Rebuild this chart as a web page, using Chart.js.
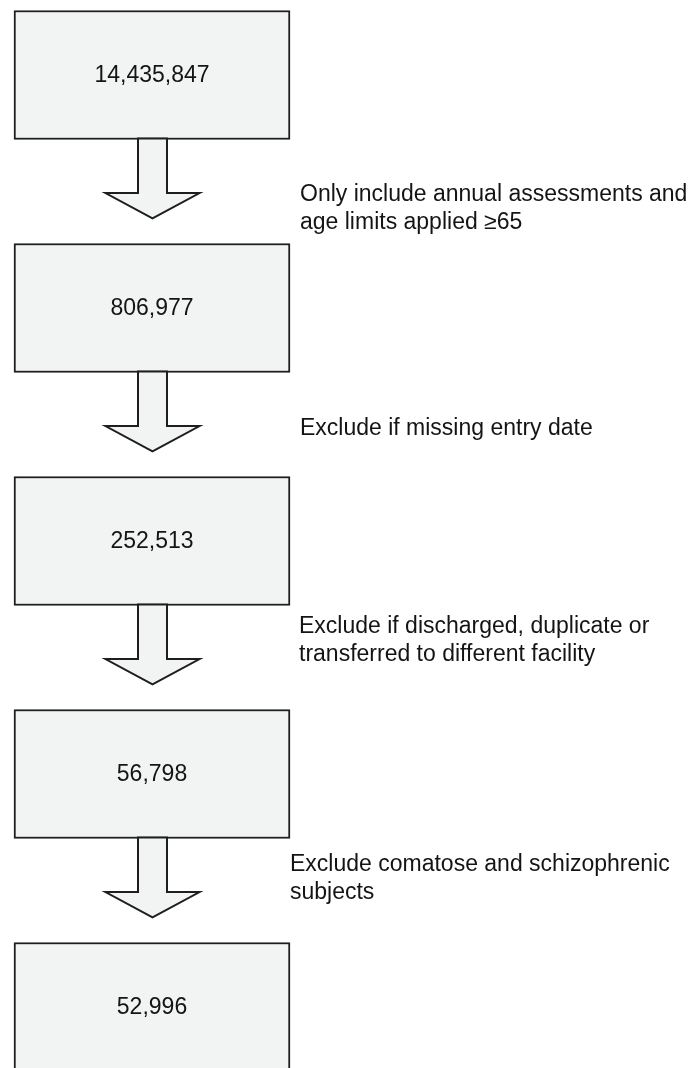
<!DOCTYPE html>
<html lang="en">
<head>
<meta charset="UTF-8">
<title>Flow</title>
<script src="https://cdn.jsdelivr.net/npm/chart.js@4.4.1/dist/chart.umd.min.js"></script>
<style>
  html, body { margin: 0; padding: 0; background: #fff; }
  #wrap { width: 697px; height: 1068px; position: relative; }
</style>
</head>
<body>
<div id="wrap"><canvas id="flow"></canvas></div>
<script>
// counts remaining after each step
const counts = [14435847, 806977, 252513, 56798, 52996];
// exclusion step between box i and box i+1 (lines)
const steps = [
  ['Only include annual assessments and', 'age limits applied \u226565'],
  ['Exclude if missing entry date'],
  ['Exclude if discharged, duplicate or', 'transferred to different facility'],
  ['Exclude comatose and schizophrenic', 'subjects']
];

// layout (pixels)
const BOX_LEFT = 14, BOX_RIGHT = 290, BOX_H = 129;
const FIRST_CENTER = 75, PITCH = 233;
const W = 697, H = 1068;
const noteX = [300, 300, 299, 290];
const noteShift = [30, 17, -4, 1];
const FONT = '23px "Liberation Sans", Arial, sans-serif';
const FILL = '#f2f3f3', EDGE = '#1e1e1e';

const data = counts.map((c, i) => ({ x: [BOX_LEFT, BOX_RIGHT], y: i }));

const flowPlugin = {
  id: 'flow',
  afterDatasetsDraw(chart) {
    const ctx = chart.ctx;
    const bars = chart.getDatasetMeta(0).data;
    ctx.save();
    // arrows between boxes
    for (let i = 0; i < bars.length - 1; i++) {
      const b = bars[i], n = bars[i + 1];
      const cx = (b.x + b.base) / 2 + 0.5;
      const top = b.y + b.height / 2 - 1;
      const nextTop = n.y - n.height / 2;
      const gap = nextTop - top;
      const wingY = top + gap * 0.52;
      const tipY = top + gap * 0.76;
      const sw = 29, hw = 94;
      ctx.beginPath();
      ctx.moveTo(cx - sw / 2, top);
      ctx.lineTo(cx - sw / 2, wingY);
      ctx.lineTo(cx - hw / 2, wingY);
      ctx.lineTo(cx, tipY);
      ctx.lineTo(cx + hw / 2, wingY);
      ctx.lineTo(cx + sw / 2, wingY);
      ctx.lineTo(cx + sw / 2, top);
      ctx.closePath();
      ctx.fillStyle = FILL;
      ctx.fill();
      ctx.lineWidth = 2;
      ctx.strokeStyle = EDGE;
      ctx.lineJoin = 'miter';
      ctx.stroke();

      // note text beside arrow
      const lines = steps[i];
      const mid = (top + tipY) / 2 + noteShift[i];
      const lh = 28;
      ctx.fillStyle = '#141414';
      ctx.font = FONT;
      ctx.textAlign = 'left';
      ctx.textBaseline = 'middle';
      lines.forEach((t, k) => {
        ctx.fillText(t, noteX[i], mid + (k - (lines.length - 1) / 2) * lh);
      });
    }
    // counts inside boxes
    ctx.fillStyle = '#141414';
    ctx.font = FONT;
    ctx.textAlign = 'center';
    ctx.textBaseline = 'middle';
    bars.forEach((b, i) => {
      ctx.fillText(counts[i].toLocaleString('en-US'), (b.x + b.base) / 2, b.y + 1);
    });
    ctx.restore();
  }
};

new Chart(document.getElementById('flow'), {
  type: 'bar',
  data: {
    datasets: [{
      data: data,
      backgroundColor: FILL,
      borderColor: EDGE,
      borderWidth: 2,
      borderSkipped: false,
      barThickness: BOX_H
    }]
  },
  options: {
    indexAxis: 'y',
    responsive: true,
    maintainAspectRatio: false,
    animation: false,
    layout: { padding: 0 },
    plugins: { legend: { display: false }, tooltip: { enabled: false } },
    scales: {
      x: { type: 'linear', min: 0, max: W, display: false, offset: false },
      y: {
        type: 'linear', reverse: true, display: false,
        offset: false, grace: 0, bounds: 'data',
        min: -FIRST_CENTER / PITCH,
        max: (H - FIRST_CENTER) / PITCH
      }
    }
  },
  plugins: [flowPlugin]
});
</script>
</body>
</html>
